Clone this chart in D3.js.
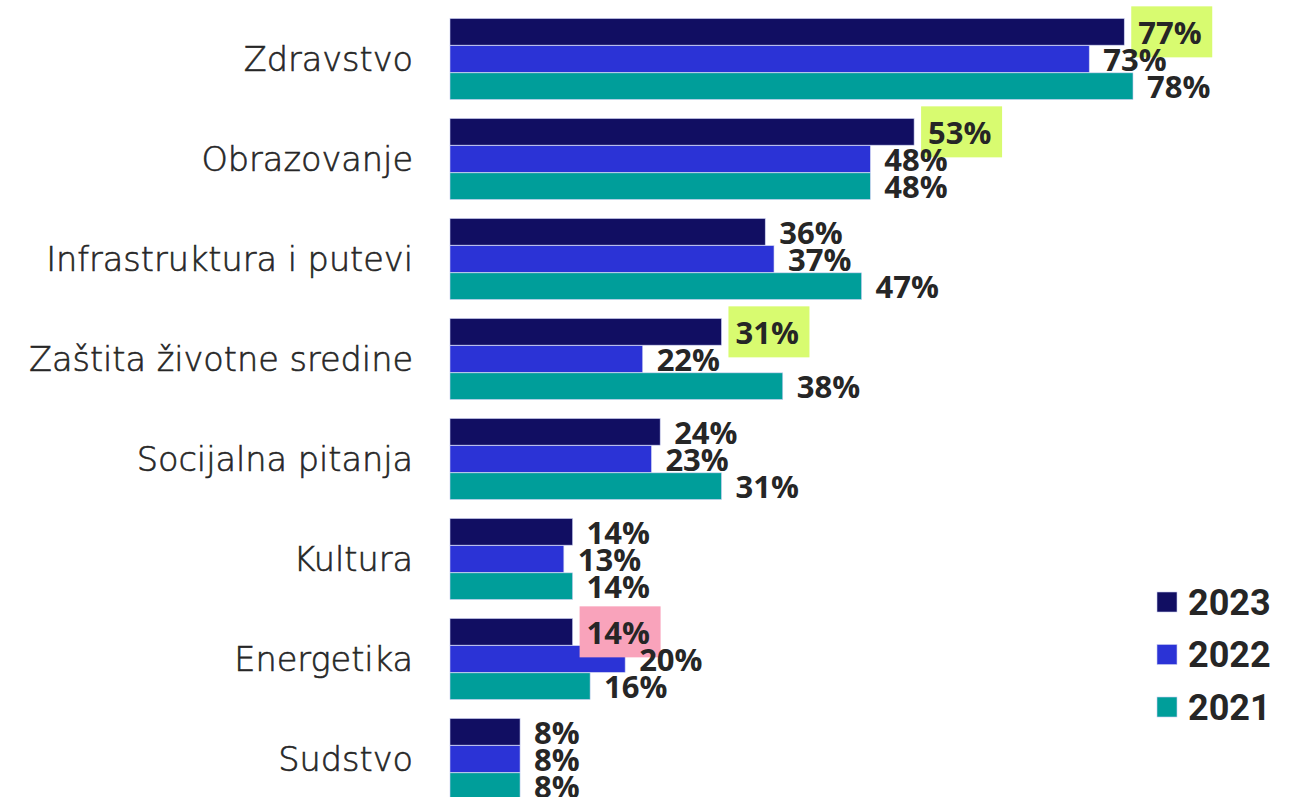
<!DOCTYPE html>
<html>
<head>
<meta charset="utf-8">
<script src="https://cdn.jsdelivr.net/npm/d3@7"></script>
<style>
	body { margin: 0; background: #fff; }
	svg { display: block; }
</style>
</head>
<body>
<div id="chart"></div>
<script>
var categories = ["Zdravstvo", "Obrazovanje", "Infrastruktura i putevi", "Zaštita životne sredine", "Socijalna pitanja", "Kultura", "Energetika", "Sudstvo"];
var years = ["2023", "2022", "2021"];
var values2023 = [77, 53, 36, 31, 24, 14, 14, 8];
var values2022 = [73, 48, 37, 22, 23, 13, 20, 8];
var values2021 = [78, 48, 47, 38, 31, 14, 16, 8];
// highlighted 2023 labels: green = rise, pink = fall
var highlight2023 = ["green", "green", "", "green", "", "", "pink", ""];

var colors = {"2023": "#110e62", "2022": "#2b33d6", "2021": "#009e9a"};
var hlColors = {green: "#d8fb70", pink: "#f9a3bb"};

var width = 1294, height = 797;

var svg = d3.select("#chart").append("svg")
	.attr("width", width)
	.attr("height", height);

var x = d3.scaleLinear().domain([0, 78]).range([450, 1133]);
var y0 = d3.scaleBand().domain(categories).range([18, 800]).paddingInner(0.18);
var y1 = d3.scaleBand().domain(years).range([0, y0.bandwidth()]).padding(0.02);

var series = {"2023": values2023, "2022": values2022, "2021": values2021};

var rows = [];
categories.forEach(function(c, i){
	years.forEach(function(yr){
		rows.push({cat: c, year: yr, value: series[yr][i], hl: yr == "2023" ? highlight2023[i] : ""});
	});
});

// category labels
svg.append("g").selectAll("text")
	.data(categories)
	.enter().append("text")
	.attr("x", 413)
	.attr("y", function(d){ return y0(d) + y0.bandwidth() / 2; })
	.attr("dy", "0.36em")
	.attr("text-anchor", "end")
	.attr("font-family", "'DejaVu Sans', sans-serif")
	.attr("font-weight", 200)
	.attr("font-size", "33.5px")
	.attr("fill", "#262626")
	.attr("stroke", "#262626")
	.attr("stroke-width", 0.6)
	.text(function(d){ return d; });

var g = svg.append("g");

g.selectAll("rect.bar")
	.data(rows)
	.enter().append("rect")
	.attr("class", "bar")
	.attr("x", x(0))
	.attr("y", function(d){ return y0(d.cat) + y1(d.year); })
	.attr("width", function(d){ return x(d.value) - x(0); })
	.attr("height", y1.bandwidth())
	.attr("fill", function(d){ return colors[d.year]; })
	.attr("stroke", "#c9cdf0")
	.attr("stroke-width", 0.6);

// highlight boxes behind labels
g.selectAll("rect.hl")
	.data(rows.filter(function(d){ return d.hl; }))
	.enter().append("rect")
	.attr("class", "hl")
	.attr("x", function(d){ return x(d.value) + 7; })
	.attr("y", function(d){ return y0(d.cat) + y1(d.year) + y1.bandwidth() / 2 - 25.5; })
	.attr("width", 81)
	.attr("height", 51)
	.attr("fill", function(d){ return hlColors[d.hl]; });

g.selectAll("text.val")
	.data(rows)
	.enter().append("text")
	.attr("class", "val")
	.attr("x", function(d){ return x(d.value) + 14; })
	.attr("y", function(d){ return y0(d.cat) + y1(d.year) + y1.bandwidth() / 2 + 1; })
	.attr("dy", "0.36em")
	.attr("font-family", "'Open Sans', sans-serif")
	.attr("font-weight", 700)
	.attr("font-size", "31px")
	.attr("fill", "#262626")
	.text(function(d){ return d.value + "%"; });

// legend
var legend = svg.append("g").selectAll("g")
	.data(years)
	.enter().append("g")
	.attr("transform", function(d, i){ return "translate(1157," + (602 + i * 52.5) + ")"; });

legend.append("rect")
	.attr("x", 0)
	.attr("y", -10)
	.attr("width", 20)
	.attr("height", 20)
	.attr("fill", function(d){ return colors[d]; })
	.attr("stroke", "#c9cdf0")
	.attr("stroke-width", 0.6);

legend.append("text")
	.attr("x", 31)
	.attr("y", 0)
	.attr("dy", "0.36em")
	.attr("font-family", "Roboto, sans-serif")
	.attr("font-weight", 700)
	.attr("font-size", "36px")
	.attr("fill", "#262626")
	.text(function(d){ return d; });
</script>
</body>
</html>
